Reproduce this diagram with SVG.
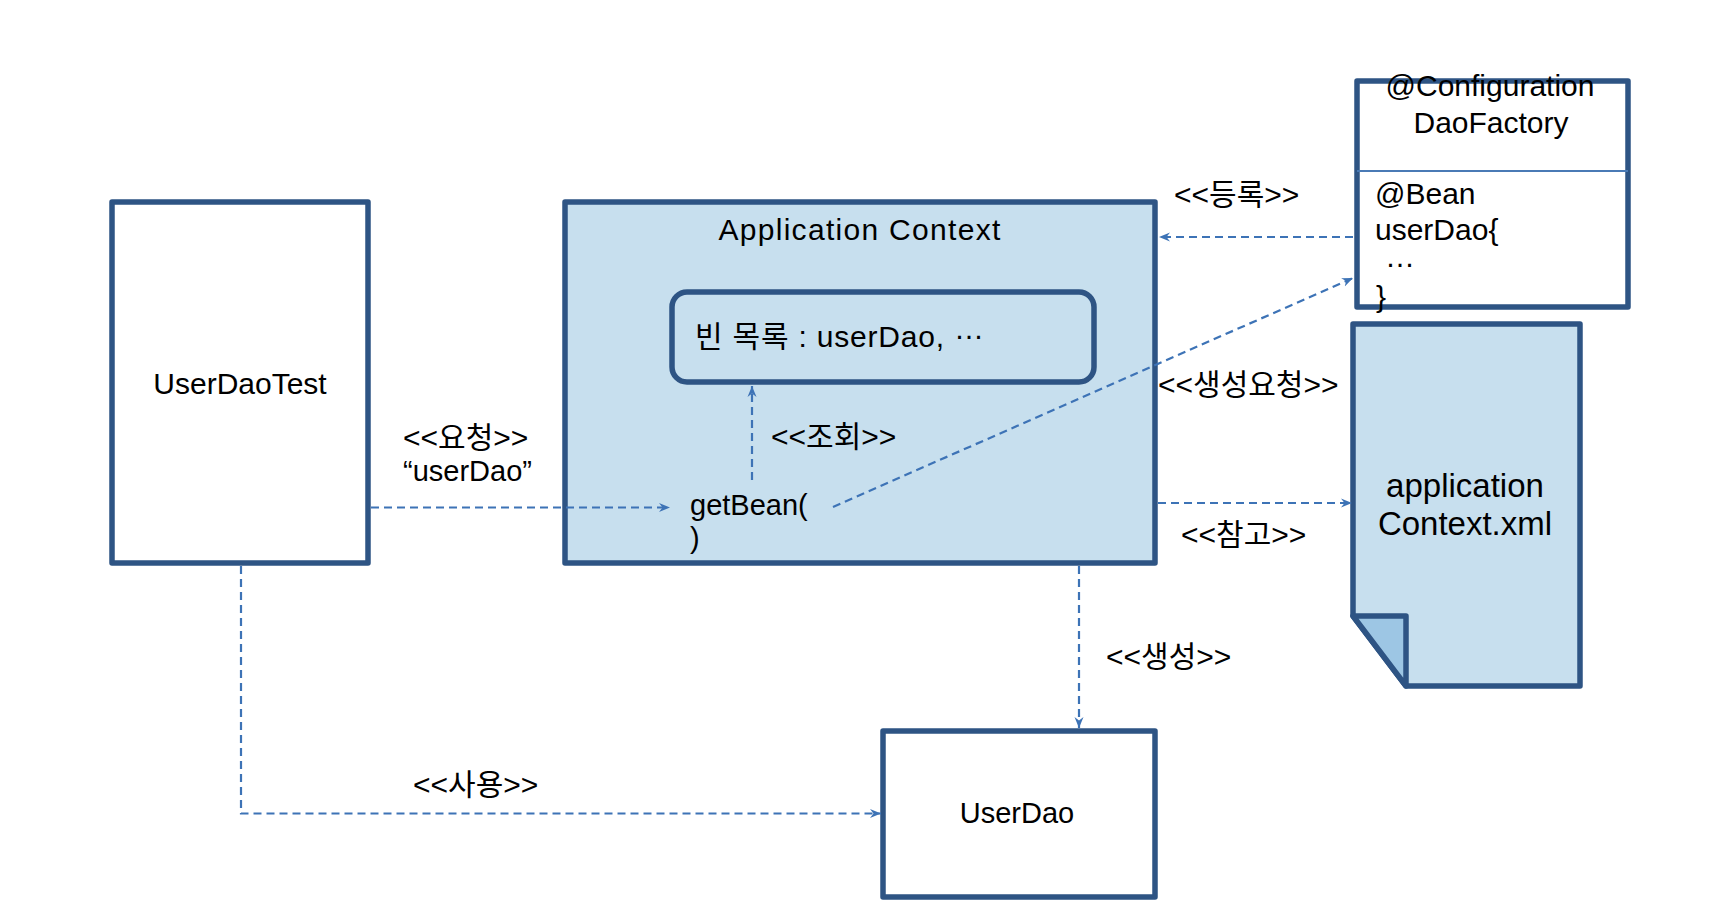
<svg xmlns="http://www.w3.org/2000/svg" width="1716" height="904" viewBox="0 0 1716 904">
<defs>
<style>
.box{stroke:#2E5484;stroke-width:5.5;stroke-linejoin:round}
.white{fill:#ffffff}
.blue{fill:#C7DFEE}
.conn{fill:none;stroke:#3D73B6;stroke-width:2.2;stroke-dasharray:8 5}
text{font-family:"Liberation Sans","Noto Sans CJK KR",sans-serif;fill:#000}
.t29{font-size:29px}
.t30{font-size:30px}
.t33{font-size:33px}
.lbl{font-size:30px}
</style>
<marker id="arr" markerUnits="userSpaceOnUse" markerWidth="12" markerHeight="10" refX="11" refY="5" orient="auto">
<path d="M0,0.5 L11,5 L0,9.5 L3.5,5 Z" fill="#3D73B6"/>
</marker>
</defs>
<rect width="1716" height="904" fill="#ffffff"/>

<g id="userDaoTest">
<rect class="box white" x="112" y="202" width="256" height="361"/>
<text class="t30" x="240" y="394" text-anchor="middle">UserDaoTest</text>
</g>

<g id="applicationContext">
<rect class="box blue" x="565" y="202" width="590" height="361"/>
<text class="t30" x="860" y="240" text-anchor="middle" letter-spacing="1.3">Application Context</text>
</g>

<g id="beanList">
<rect class="box blue" x="672" y="292" width="422" height="90" rx="15" ry="15"/>
<text class="t30" x="695" y="347" letter-spacing="0.8">빈 목록 : userDao, <tspan dy="-8">…</tspan></text>
</g>

<g id="getBean">
<text class="t29" x="690" y="515">getBean(</text>
<text class="t29" x="690" y="548">)</text>
</g>

<g id="daoFactory">
<rect class="box white" x="1357" y="81" width="271" height="226"/>
<line x1="1357" y1="171" x2="1628" y2="171" stroke="#4A7AB5" stroke-width="2"/>
<text class="t30" x="1490" y="96" text-anchor="middle">@Configuration</text>
<text class="t30" x="1491" y="133" text-anchor="middle">DaoFactory</text>
<text class="t30" x="1375" y="204">@Bean</text>
<text class="t30" x="1375" y="240">userDao{</text>
<text class="t30" x="1385" y="267">…</text>
<text class="t30" x="1376" y="307">}</text>
</g>

<g id="applicationContextXml">
<path class="box blue" d="M1353,324 H1580 V686 H1406 L1353,616 Z"/>
<path class="box" d="M1353,616 H1406 V686 Z" fill="#9DC6E4"/>
<text class="t33" x="1465" y="497" text-anchor="middle">application</text>
<text class="t33" x="1465" y="535" text-anchor="middle">Context.xml</text>
</g>

<g id="userDao">
<rect class="box white" x="883" y="731" width="272" height="166"/>
<text class="t29" x="1017" y="823" text-anchor="middle">UserDao</text>
</g>

<g id="connectors">
<path class="conn" d="M371,507.5 H670" marker-end="url(#arr)"/>
<path class="conn" d="M752,480 V386" marker-end="url(#arr)"/>
<path class="conn" d="M833,507 L1353,278" marker-end="url(#arr)"/>
<path class="conn" d="M1353,237 H1159" marker-end="url(#arr)"/>
<path class="conn" d="M1158,503 H1352" marker-end="url(#arr)"/>
<path class="conn" d="M1079,566 V728" marker-end="url(#arr)"/>
<path class="conn" d="M241,566 V813.5 H881" marker-end="url(#arr)"/>
</g>

<g id="labels">
<text class="lbl" x="403" y="448">&lt;&lt;요청&gt;&gt;</text>
<text class="t29" x="403" y="481">“userDao”</text>
<text class="lbl" x="771" y="447">&lt;&lt;조회&gt;&gt;</text>
<text class="lbl" x="1174" y="205">&lt;&lt;등록&gt;&gt;</text>
<text class="lbl" x="1158" y="395">&lt;&lt;생성요청&gt;&gt;</text>
<text class="lbl" x="1181" y="545">&lt;&lt;참고&gt;&gt;</text>
<text class="lbl" x="1106" y="667">&lt;&lt;생성&gt;&gt;</text>
<text class="lbl" x="413" y="795">&lt;&lt;사용&gt;&gt;</text>
</g>
</svg>
